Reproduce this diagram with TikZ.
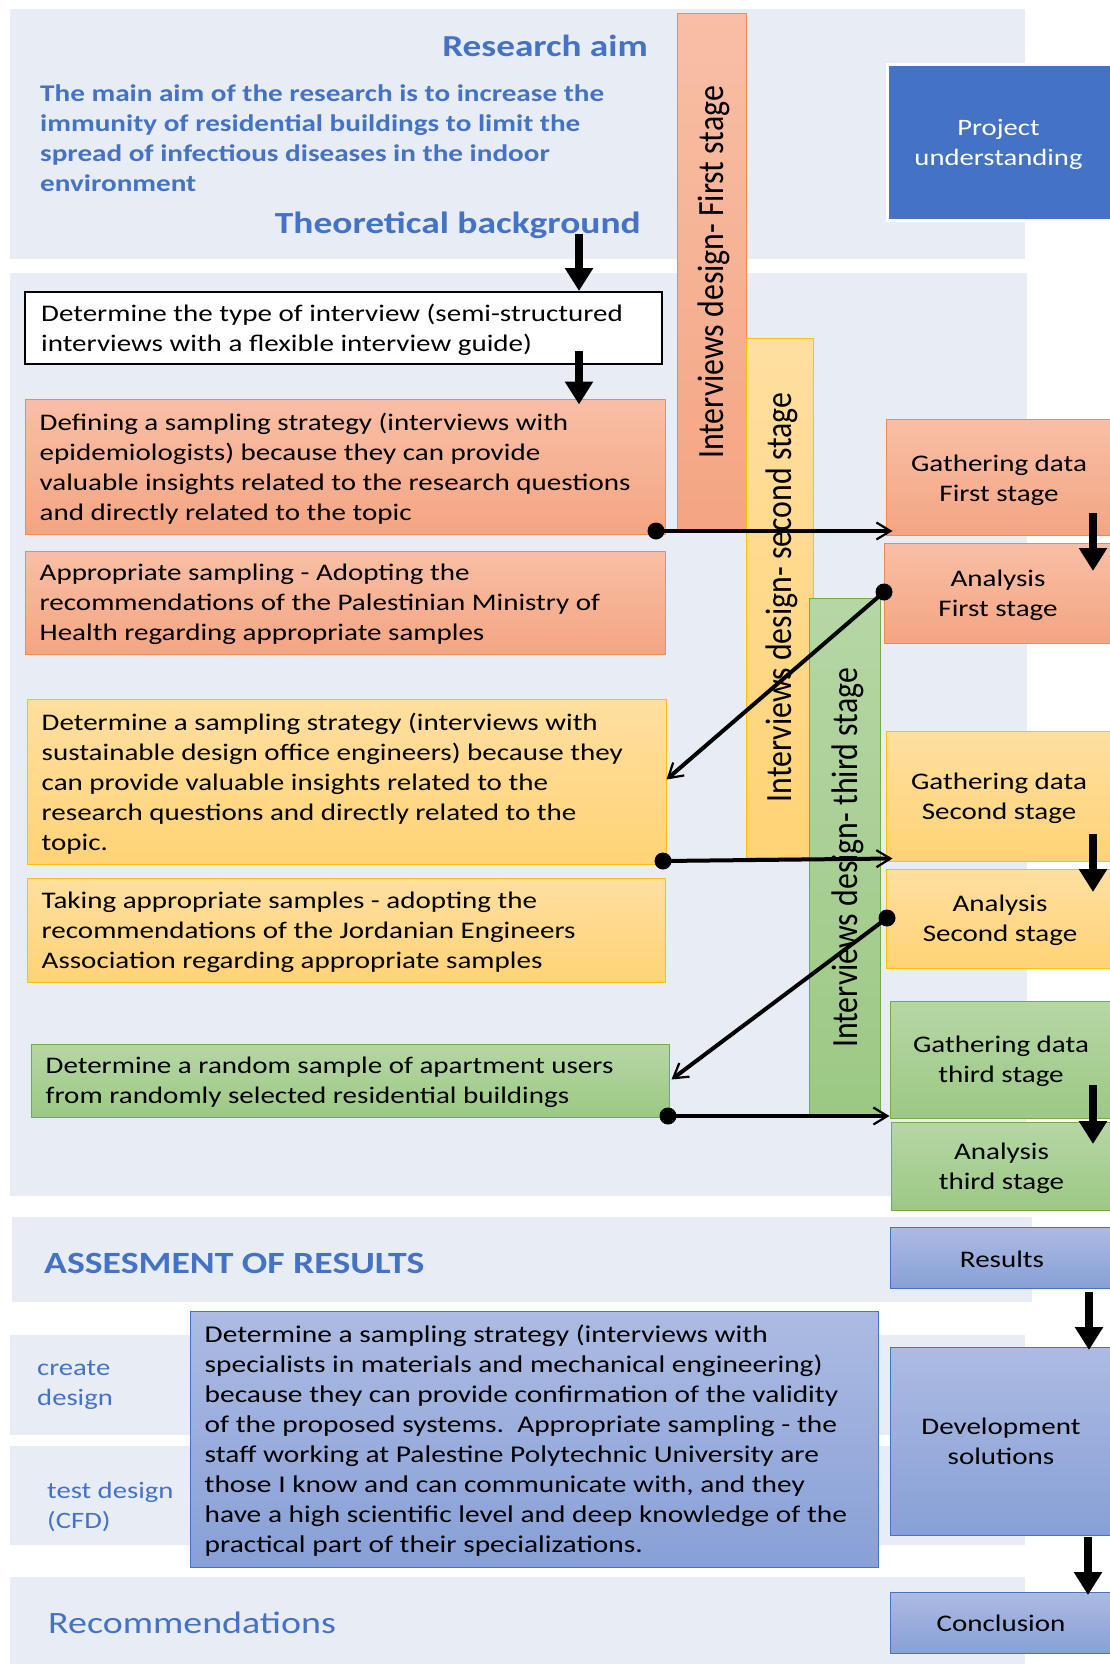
\documentclass[tikz,border=0pt]{standalone}
\usepackage{fontspec}
\setmainfont{Carlito}
\usetikzlibrary{arrows.meta,calc}
\newfontfamily\txtfont[FakeStretch=1.22]{Carlito}
\newfontfamily\barfont[FakeStretch=0.86]{Carlito}

\definecolor{bandbg}{RGB}{232,236,245}
\definecolor{headblue}{RGB}{68,114,196}
\definecolor{salmontop}{RGB}{248,191,166}
\definecolor{salmonbot}{RGB}{244,165,130}
\definecolor{salmonedge}{RGB}{240,138,80}
\definecolor{yellowtop}{RGB}{255,223,160}
\definecolor{yellowbot}{RGB}{255,211,118}
\definecolor{yellowedge}{RGB}{255,192,0}
\definecolor{greentop}{RGB}{182,215,165}
\definecolor{greenbot}{RGB}{156,200,132}
\definecolor{greenedge}{RGB}{112,173,71}
\definecolor{bluetop}{RGB}{172,187,226}
\definecolor{bluebot}{RGB}{136,160,215}
\definecolor{blueedge}{RGB}{68,114,196}

\tikzset{
  band/.style={fill=bandbg, draw=none},
  panel/.style={inner sep=0pt, line width=1pt},
  salmonpanel/.style={panel, draw=salmonedge, top color=salmontop, bottom color=salmonbot},
  yellowpanel/.style={panel, draw=yellowedge, top color=yellowtop, bottom color=yellowbot},
  greenpanel/.style={panel, draw=greenedge, top color=greentop, bottom color=greenbot},
  bluepanel/.style={panel, draw=blueedge, top color=bluetop, bottom color=bluebot},
  stagetext/.style={inner sep=0pt, align=center, text=black, font=\txtfont\fontsize{23.8}{30}\selectfont},
  body/.style={inner sep=0pt, align=left, text=black, yshift=-2pt, font=\txtfont\fontsize{23.8}{30}\selectfont},
  bartext/.style={inner sep=0pt, rotate=90, anchor=base, text=black, font=\barfont\fontsize{37}{40}\selectfont},
  heading/.style={inner sep=0pt, text=headblue, font=\txtfont\bfseries\fontsize{30.5}{36}\selectfont},
  sidelabel/.style={inner sep=0pt, align=left, text=headblue, font=\txtfont\fontsize{23.5}{30}\selectfont},
  dot/.style={circle, fill=black, minimum size=17pt, inner sep=0pt},
  link/.style={line width=4pt, -{Straight Barb[length=14pt,width=17pt,line width=2.2pt]}},
  bigarrow/.style={line width=8pt, -{Triangle[length=23pt,width=27pt]}}
}

\begin{document}
\begin{tikzpicture}[x=1pt,y=-1pt]
\useasboundingbox (0,0) rectangle (1110,1665);
\fill[white] (0,0) rectangle (1110,1665);

% background bands
\fill[band] (10,9) rectangle (1025,259);
\fill[band] (10,273) rectangle (1027,1196);
\fill[band] (12,1217) rectangle (1032,1302);
\fill[band] (10,1335) rectangle (1025,1435);
\fill[band] (10,1446) rectangle (1025,1545);
\fill[band] (10,1577) rectangle (1025,1664);

% research aim block
\node[heading, anchor=base east] (aimhead) at (648,56) {Research aim};
\node[heading, anchor=west, align=left, font=\txtfont\bfseries\fontsize{23.9}{30}\selectfont] (aimtext) at (40,138)
  {The main aim of the research is to increase the\\
   immunity of residential buildings to limit the\\
   spread of infectious diseases in the indoor\\
   environment};
\node[heading, anchor=base east, font=\txtfont\bfseries\fontsize{30.7}{36}\selectfont] (theo) at (641,233) {Theoretical background};

\node[panel, draw=white, line width=3pt, fill=headblue, minimum width=225, minimum height=156] (proj) at (999.5,142) {};
\node[stagetext, text=white, font=\txtfont\fontsize{23.5}{30}\selectfont] (projt) at ($(proj.center)+(-1,2)$) {Project\\understanding};

% vertical stage bars
\node[salmonpanel, minimum width=69, minimum height=516] (bar1) at (711.5,271) {};
\node[yellowpanel, minimum width=67, minimum height=519] (bar2) at (779.5,597.5) {};
\node[greenpanel, minimum width=71, minimum height=516] (bar3) at (844.5,856) {};
\node[bartext] (bar1t) at (723,272.5) {Interviews design- First stage};
\node[bartext] (bar2t) at (791,597.5) {Interviews design- second stage};
\node[bartext] (bar3t) at (857,858) {Interviews design- third stage};

% left column panels
\node[panel, draw=black, line width=2pt, fill=white, minimum width=637, minimum height=72] (type) at (343.5,328) {};
\node[body, anchor=west] (typet) at ($(type.west)+(17,0)$)
  {Determine the type of interview (semi-structured\\interviews with a flexible interview guide)};

\node[salmonpanel, minimum width=640, minimum height=135] (def) at (345,466.5) {};
\node[body, anchor=west] (deft) at ($(def.west)+(15,0)$)
  {Defining a sampling strategy (interviews with\\
   epidemiologists) because they can provide\\
   valuable insights related to the research questions\\
   and directly related to the topic};

\node[salmonpanel, minimum width=640, minimum height=103] (app) at (345,602.5) {};
\node[body, anchor=west] (appt) at ($(app.west)+(15,0)$)
  {Appropriate sampling - Adopting the\\
   recommendations of the Palestinian Ministry of\\
   Health regarding appropriate samples};

\node[yellowpanel, minimum width=639, minimum height=165] (det) at (346.5,781.5) {};
\node[body, anchor=west] (dett) at ($(det.west)+(15,0)$)
  {Determine a sampling strategy (interviews with\\
   sustainable design office engineers) because they\\
   can provide valuable insights related to the\\
   research questions and directly related to the\\
   topic.};

\node[yellowpanel, minimum width=638, minimum height=104] (take) at (346,930) {};
\node[body, anchor=west] (taket) at ($(take.west)+(15,0)$)
  {Taking appropriate samples - adopting the\\
   recommendations of the Jordanian Engineers\\
   Association regarding appropriate samples};

\node[greenpanel, minimum width=638, minimum height=73] (rand) at (350,1080.5) {};
\node[body, anchor=west] (randt) at ($(rand.west)+(15,0)$)
  {Determine a random sample of apartment users\\
   from randomly selected residential buildings};

% right column stages
\node[salmonpanel, minimum width=226, minimum height=116] (g1) at (999,477) {};
\node[salmonpanel, minimum width=228, minimum height=100] (a1) at (998,593) {};
\node[yellowpanel, minimum width=226, minimum height=130] (g2) at (999,796) {};
\node[yellowpanel, minimum width=226, minimum height=99] (a2) at (999,918.5) {};
\node[greenpanel, minimum width=222, minimum height=117] (g3) at (1001,1059.5) {};
\node[greenpanel, minimum width=221, minimum height=88] (a3) at (1001.5,1166) {};
\node[stagetext] (g1t) at ($(g1.center)+(0,3)$) {Gathering data\\First stage};
\node[stagetext] (a1t) at ($(a1.center)+(0,2)$) {Analysis\\First stage};
\node[stagetext] (g2t) at ($(g2.center)+(0,2)$) {Gathering data\\Second stage};
\node[stagetext] (a2t) at ($(a2.center)+(1,2)$) {Analysis\\Second stage};
\node[stagetext] (g3t) at ($(g3.center)+(0,2)$) {Gathering data\\third stage};
\node[stagetext] (a3t) at ($(a3.center)+(0,2)$) {Analysis\\third stage};

% results section
\node[heading, anchor=base west, font=\txtfont\bfseries\fontsize{30.9}{36}\selectfont] (assess) at (44,1273) {ASSESMENT OF RESULTS};
\node[bluepanel, minimum width=222, minimum height=61] (res) at (1001,1257.5) {};
\node[bluepanel, minimum width=222, minimum height=188] (dev) at (1001,1441) {};
\node[bluepanel, minimum width=222, minimum height=61] (con) at (1001,1622.5) {};
\node[stagetext] (rest) at ($(res.center)+(1,2)$) {Results};
\node[stagetext] (devt) at ($(dev.center)+(0,0)$) {Development\\solutions};
\node[stagetext] (cont) at ($(con.center)+(0,1)$) {Conclusion};

\node[sidelabel, anchor=west] (create) at (37,1385) {create\\design};
\node[sidelabel, anchor=west] (test) at (47,1507) {test design\\(CFD)};

\node[bluepanel, minimum width=688, minimum height=256] (spec) at (534,1439) {};
\node[body, anchor=west, font=\txtfont\fontsize{24.1}{30}\selectfont] (spect) at ($(spec.west)+(15,0)$)
  {Determine a sampling strategy (interviews with\\
   specialists in materials and mechanical engineering)\\
   because they can provide confirmation of the validity\\
   of the proposed systems.\ \ Appropriate sampling - the\\
   staff working at Palestine Polytechnic University are\\
   those I know and can communicate with, and they\\
   have a high scientific level and deep knowledge of the\\
   practical part of their specializations.};

\node[heading, anchor=base west, font=\txtfont\fontsize{31.1}{36}\selectfont] (recom) at (48,1633) {Recommendations};

% thick flow arrows
\coordinate (theofoot) at (579,234);
\draw[bigarrow] (theofoot) -- (theofoot |- type.north);
\coordinate (typefoot) at (579,351);
\draw[bigarrow] (typefoot) -- ($(typefoot |- def.north)+(0,6)$);
\coordinate (g1foot) at (1093,513);
\coordinate (a1head) at (1093,571);
\draw[bigarrow] (g1foot) -- (a1head);
\coordinate (g2foot) at (1093,834);
\coordinate (a2head) at (1093,892);
\draw[bigarrow] (g2foot) -- (a2head);
\coordinate (g3foot) at (1093,1085);
\coordinate (a3head) at (1093,1144);
\draw[bigarrow] (g3foot) -- (a3head);
\coordinate (resfoot) at (1089,1292);
\coordinate (devhead) at (1089,1350);
\draw[bigarrow] (resfoot) -- (devhead);
\coordinate (devfoot) at (1088,1537);
\coordinate (conhead) at (1088,1595);
\draw[bigarrow] (devfoot) -- (conhead);

% dotted-start connectors between the columns
\node[dot] (d1) at (656,531) {};
\node[dot] (d2) at (884,592) {};
\node[dot] (d3) at (663,861) {};
\node[dot] (d4) at (887,918) {};
\node[dot] (d5) at (668,1116) {};
\draw[link] (d1.center) -- ($(d1 -| g1.west)+(7,0)$);
\draw[link] (d2.center) -- ($(det.east)+(0,-2)$);
\draw[link] (d3.center) -- ($(g2.south west)+(7,-3)$);
\draw[link] (d4.center) -- ($(rand.east)+(2,-1)$);
\draw[link] (d5.center) -- (d5 -| g3.west);
\end{tikzpicture}
\end{document}
